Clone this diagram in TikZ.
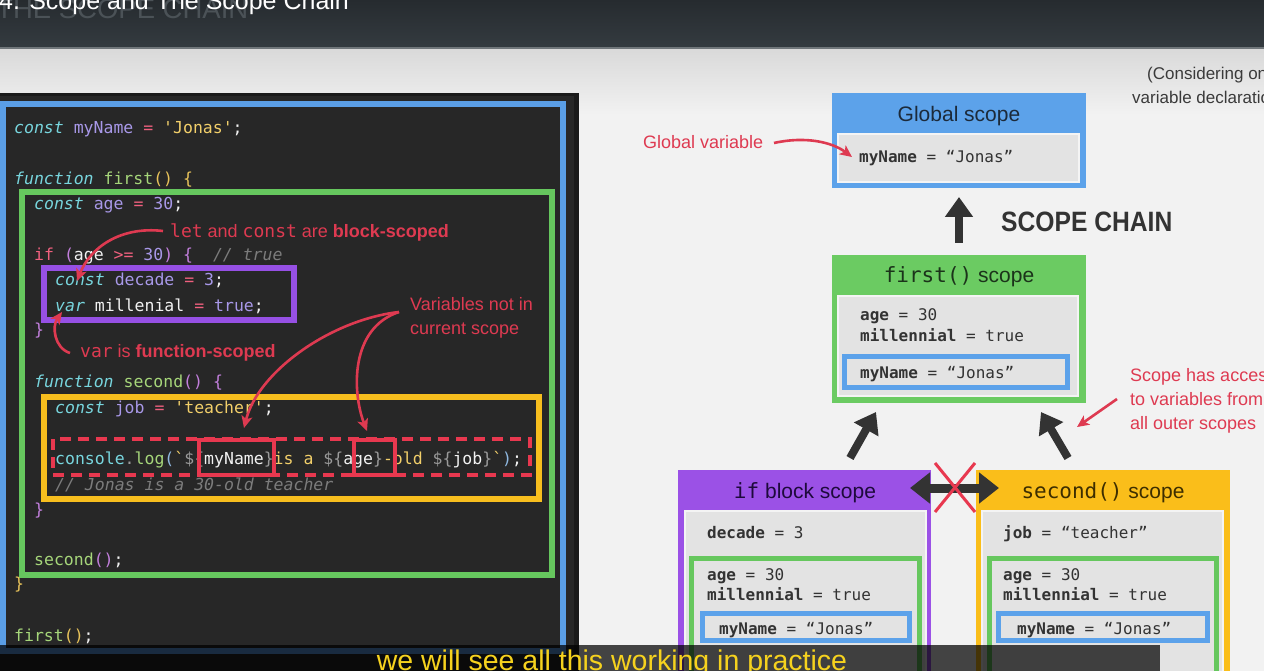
\documentclass[tikz,border=0pt]{standalone}
\usepackage{fontspec}
\setmainfont{Liberation Sans}
\setmonofont{DejaVu Sans Mono}
\usetikzlibrary{arrows.meta}
% colours
\definecolor{pagebg}{HTML}{F2F2F2}
\definecolor{bgtop}{HTML}{D9D9D9}
\definecolor{barA}{HTML}{262B2F}
\definecolor{barB}{HTML}{343B40}
\definecolor{barline}{HTML}{70767A}
\definecolor{ghost}{HTML}{4B5257}
\definecolor{codebg}{HTML}{272727}
\definecolor{codeedge}{HTML}{1A1A1A}
\definecolor{fblue}{HTML}{5A9EE6}
\definecolor{fgreen}{HTML}{66C75E}
\definecolor{fpurple}{HTML}{9650E4}
\definecolor{fyellow}{HTML}{F7BE1E}
\definecolor{fred}{HTML}{E8384F}
\definecolor{annred}{HTML}{DE3A51}
\definecolor{cKw}{HTML}{78D6DE}
\definecolor{cVar}{HTML}{A898E8}
\definecolor{cOp}{HTML}{F0607E}
\definecolor{cStr}{HTML}{F2CF6A}
\definecolor{cFn}{HTML}{A6D67A}
\definecolor{cNum}{HTML}{A898E8}
\definecolor{cPu}{HTML}{C27FDC}
\definecolor{cYl}{HTML}{E8C35A}
\definecolor{cCm}{HTML}{7C7C7C}
\definecolor{cWh}{HTML}{F2F2F2}
\definecolor{cGy}{HTML}{9A9A9A}
\definecolor{cBl}{HTML}{8FB8E0}
\definecolor{boxgray}{HTML}{E3E3E3}
\definecolor{boxedge}{HTML}{F4F4F4}
\definecolor{darkarrow}{HTML}{333333}
\definecolor{vtext}{HTML}{333333}
\definecolor{bluebox}{HTML}{5CA2EA}
\definecolor{greenbox}{HTML}{6BCB62}
\definecolor{purplebox}{HTML}{9B51E6}
\definecolor{yellowbox}{HTML}{FABE1A}
\definecolor{tglob}{HTML}{1C2A3A}
\definecolor{tfirst}{HTML}{1B331A}
\definecolor{tif}{HTML}{1E0A3C}
\definecolor{tsec}{HTML}{3D2E00}
\definecolor{subyellow}{HTML}{F6D21E}
\definecolor{notetext}{HTML}{3A3A3A}
% fonts
\newcommand\mycodefont{\ttfamily\fontsize{16.5}{18}\selectfont}
\newcommand\myannfont{\fontsize{18}{20}\selectfont}
\newcommand\myvarfont{\ttfamily\fontsize{16}{18}\selectfont}
\newcommand\myttlfont{\fontsize{21}{24}\selectfont}
% code colouring
\newcommand\Kw[1]{{\color{cKw}\itshape#1}}
\newcommand\Tl[1]{{\color{cKw}#1}}
\newcommand\Vr[1]{{\color{cVar}#1}}
\newcommand\Op[1]{{\color{cOp}#1}}
\newcommand\Str[1]{{\color{cStr}#1}}
\newcommand\Fn[1]{{\color{cFn}#1}}
\newcommand\Nu[1]{{\color{cNum}#1}}
\newcommand\Pu[1]{{\color{cPu}#1}}
\newcommand\Yl[1]{{\color{cYl}#1}}
\newcommand\Cm[1]{{\color{cCm}\itshape#1}}
\newcommand\Gy[1]{{\color{cGy}#1}}
\newcommand\Bl[1]{{\color{cBl}#1}}
\newcommand\bq{\symbol{96}}
\newcommand\sq{\symbol{39}}
\tikzset{
  code/.style={anchor=base west, inner sep=0pt, font=\mycodefont, text=cWh},
  ann/.style={anchor=base west, inner sep=0pt, font=\myannfont, text=annred},
  vartxt/.style={anchor=base west, inner sep=0pt, font=\myvarfont, text=vtext},
  ttl/.style={anchor=base, inner sep=0pt, font=\myttlfont},
  scopebox/.style={draw=none, inner sep=0pt, outer sep=0pt},
  graybox/.style={fill=boxgray, draw=boxedge, line width=1.2pt, inner sep=0pt, outer sep=0pt},
  framebox/.style={fill=boxgray, line width=5pt, inner sep=0pt, outer sep=0pt},
  codeframe/.style={line width=6pt},
  annarrow/.style={draw=annred, line width=2.6pt, -{Stealth[length=12pt,width=11pt,inset=3pt]}},
  bigarrow/.style={draw=darkarrow, line width=8pt, -{Triangle[width=27pt,length=20pt]}},
}
\begin{document}
\begin{tikzpicture}[x=1pt,y=-1pt]
\clip (0,0) rectangle (1264,671);
% page background
\fill[pagebg] (0,0) rectangle (1264,671);
\shade[top color=bgtop,bottom color=pagebg] (0,48) rectangle (1264,115);
% top bar
\shade[top color=barA,bottom color=barB] (0,0) rectangle (1264,48);
\draw[barline, line width=1.5pt] (0,48) -- (1264,48);
\node[anchor=base west, inner sep=0pt, font=\fontsize{27.5}{30}\selectfont, text=ghost] (ghosttitle) at (-4,19) {THE SCOPE CHAIN};
\node[anchor=base west, inner sep=0pt, font=\fontsize{25}{28}\selectfont, text=white] (title) at (-1,10) {4. Scope and The Scope Chain};

% ---------------- code panel ----------------
\fill[codeedge] (0,93) rectangle (579,671);
\fill[codebg] (0,96) rectangle (574,671);
\draw[codeframe, fblue] (3,104) rectangle (563,651);
\draw[codeframe, fgreen] (21.5,192) rectangle (551.5,575);
\draw[codeframe, fpurple] (43.5,268) rectangle (293.5,320);
\draw[codeframe, fyellow] (43.5,396.5) rectangle (538.5,498.5);

\node[code] (l1) at (14,134) {\Kw{const} \Vr{myName} \Op{=} \Str{\sq Jonas\sq};};
\node[code] (l2) at (14,185) {\Kw{function} \Fn{first}\Yl{() \{}};
\node[code] (l3) at (34,210) {\Kw{const} \Vr{age} \Op{=} \Nu{30};};
\node[code] (l5) at (34,261) {\Op{if} \Pu{(}age \Op{>=} \Nu{30}\Pu{)} \Pu{\{}\ \ \Cm{// true}};
\node[code] (l6) at (55,286) {\Kw{const} \Vr{decade} \Op{=} \Nu{3};};
\node[code] (l7) at (55,311) {\Kw{var} millenial \Op{=} \Nu{true};};
\node[code] (l8) at (34,335) {\Pu{\}}};
\node[code] (l10) at (34,387) {\Kw{function} \Fn{second}\Pu{() \{}};
\node[code] (l11) at (55,413) {\Kw{const} \Vr{job} \Op{=} \Str{\sq teacher\sq};};
\node[code] (l12) at (55,464) {\Tl{console}\Gy{.}\Fn{log}\Bl{(}\Str{\bq}\Gy{\$\{}myName\Gy{\}}\Str{ is a }\Gy{\$\{}age\Gy{\}}\Str{-old }\Gy{\$\{}job\Gy{\}}\Str{\bq}\Bl{)};};
\node[code] (l13) at (55,490) {\Cm{// Jonas is a 30-old teacher}};
\node[code] (l14) at (34,515) {\Pu{\}}};
\node[code] (l15) at (34,565) {\Fn{second}\Pu{()};};
\node[code] (l16) at (14,589) {\Yl{\}}};
\node[code] (l17) at (14,641) {\Fn{first}\Yl{()};};

% red highlight boxes
\draw[fred, line width=4pt, dash pattern=on 11pt off 7pt] (53,439) rectangle (530,475);
\draw[fred, line width=4pt] (199,440) rectangle (274,475);
\draw[fred, line width=4pt] (354,440) rectangle (395,475);

% annotations in the code
\node[ann] (n1) at (170,237) {\texttt{let} and \texttt{const} are \textbf{block-scoped}};
\node[ann] (n2) at (80,357) {\texttt{var} is \textbf{function-scoped}};
\node[ann] (n3) at (410,310) {Variables not in};
\node[ann] (n4) at (410,334) {current scope};

\coordinate (a1s) at (163,231);
\coordinate (a1e) at (77,281);
\draw[annarrow] (a1s) .. controls (120,226) and (90,248) .. (a1e);
\coordinate (a2s) at (70,353);
\coordinate (a2e) at (62,312);
\draw[annarrow] (a2s) .. controls (54,348) and (52,326) .. (a2e);
\coordinate (a3s) at (399,312);
\coordinate (a3e) at (244,428);
\draw[annarrow] (a3s) .. controls (330,320) and (258,372) .. (a3e);
\coordinate (a4e) at (367,431);
\draw[annarrow] (a3s) .. controls (350,328) and (352,392) .. (a4e);

% ---------------- right side ----------------
\node[anchor=base west, inner sep=0pt, font=\fontsize{17}{20}\selectfont, text=notetext] (note1) at (1147,80) {(Considering only};
\node[anchor=base west, inner sep=0pt, font=\fontsize{17}{20}\selectfont, text=notetext] (note2) at (1132,104) {variable declarations)};

% global scope
\node[scopebox, fill=bluebox, minimum width=254pt, minimum height=95pt] (glob) at (959,140.5) {};
\node[graybox, minimum width=241pt, minimum height=48pt] (globin) at (958.5,158) {};
\node[ttl, text=tglob] (globt) at (959,122) {Global scope};
\node[vartxt] (globv) at (859,163) {\textbf{myName} = “Jonas”};

\node[ann] (gvlab) at (643,149) {Global variable};
\coordinate (gva) at (774,143);
\coordinate (gvb) at (852,157);
\draw[annarrow] (gva) .. controls (805,136) and (832,142) .. (gvb);

% scope chain arrow
\node[scopebox, fill=greenbox, minimum width=254pt, minimum height=148pt] (first) at (959,329) {};
\draw[bigarrow] ([yshift=12pt]first.north) -- ([yshift=-9pt]glob.south);
\node[anchor=base west, inner sep=0pt, font=\bfseries\fontsize{28}{30}\selectfont, text=darkarrow] (chain) at (1001,232) {\scalebox{0.88}[1]{SCOPE CHAIN}};

% first() scope
\node[graybox, minimum width=240pt, minimum height=100pt] (firstin) at (958,346) {};
\node[ttl, text=tfirst] (firstt) at (959,283) {\texttt{first()} scope};
\node[vartxt] (fv1) at (860,320) {\textbf{age} = 30};
\node[vartxt] (fv2) at (860,341) {\textbf{millennial} = true};
\node[framebox, draw=bluebox, minimum width=223pt, minimum height=31pt] (firstblue) at (956,372) {};
\node[vartxt] (fv3) at (860,378) {\textbf{myName} = “Jonas”};

\node[ann] (acc1) at (1130,381) {Scope has access};
\node[ann] (acc2) at (1130,405) {to variables from};
\node[ann] (acc3) at (1130,429) {all outer scopes};
\coordinate (acs) at (1117,399);
\coordinate (ace) at (1077,427);
\draw[annarrow] (acs) -- (ace);

% if block scope
\node[scopebox, fill=purplebox, minimum width=253pt, minimum height=220pt] (ifb) at (804.5,580) {};
\node[graybox, minimum width=241pt, minimum height=179pt] (ifin) at (805.5,600.5) {};
\node[framebox, draw=fgreen, minimum width=228pt, minimum height=131pt] (ifgreen) at (805.5,624) {};
\node[framebox, draw=bluebox, minimum width=207pt, minimum height=27pt] (ifblue) at (806,627) {};
\node[ttl, text=tif] (ift) at (805,498) {\texttt{if} block scope};
\node[vartxt] (iv1) at (707,538) {\textbf{decade} = 3};
\node[vartxt] (iv2) at (707,580) {\textbf{age} = 30};
\node[vartxt] (iv3) at (707,600) {\textbf{millennial} = true};
\node[vartxt] (iv4) at (719,634) {\textbf{myName} = “Jonas”};

% second() scope
\node[scopebox, fill=yellowbox, minimum width=254pt, minimum height=220pt] (sec) at (1103,580) {};
\node[graybox, minimum width=241pt, minimum height=179pt] (secin) at (1102.5,600.5) {};
\node[framebox, draw=fgreen, minimum width=227pt, minimum height=131pt] (secgreen) at (1103,624) {};
\node[framebox, draw=bluebox, minimum width=209pt, minimum height=27pt] (secblue) at (1103,627) {};
\node[ttl, text=tsec] (sect) at (1103,498) {\texttt{second()} scope};
\node[vartxt] (sv1) at (1003,538) {\textbf{job} = “teacher”};
\node[vartxt] (sv2) at (1003,580) {\textbf{age} = 30};
\node[vartxt] (sv3) at (1003,600) {\textbf{millennial} = true};
\node[vartxt] (sv4) at (1017,634) {\textbf{myName} = “Jonas”};

% arrows up to first()
\coordinate (upl) at (850,458);
\coordinate (upr) at (1068,458);
\draw[bigarrow] (upl) -- (876,412);
\draw[bigarrow] (upr) -- (1041,412);

% no access between siblings
\coordinate (dbl) at (910,488);
\coordinate (dbr) at (999,488);
\draw[draw=darkarrow, line width=9pt, {Triangle[width=30pt,length=20pt]}-{Triangle[width=30pt,length=20pt]}] (dbl) -- (dbr);
\coordinate (x1) at (935,463);
\coordinate (x2) at (975,512);
\coordinate (x3) at (975,463);
\coordinate (x4) at (935,512);
\draw[fred, line width=3pt] (x1) -- (x2);
\draw[fred, line width=3pt] (x3) -- (x4);

% subtitle bar
\fill[black, opacity=0.72] (0,645) rectangle (1160,671);
\node[anchor=base, inner sep=0pt, font=\fontsize{28.5}{30}\selectfont, text=subyellow] (sub) at (612,670) {we will see all this working in practice};
\end{tikzpicture}
\end{document}
